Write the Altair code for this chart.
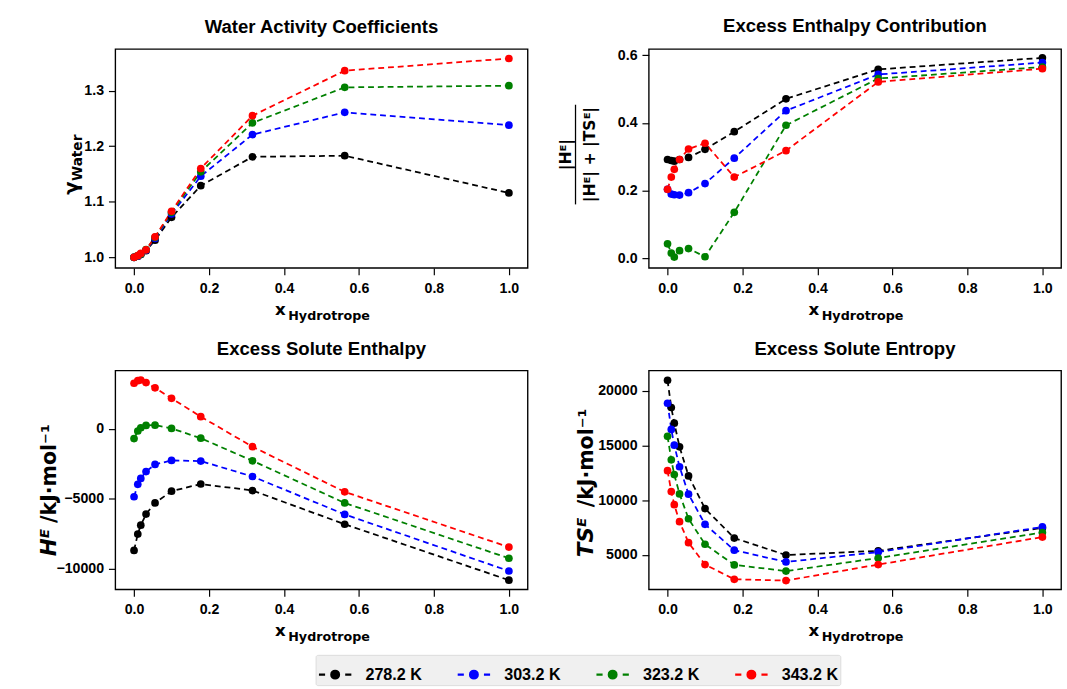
import altair as alt
import pandas as pd

# ---- data ----
x_vals = [0.0, 0.01, 0.018, 0.032, 0.056, 0.1, 0.178, 0.316, 0.562, 1.0]
temps = ["278.2 K", "303.2 K", "323.2 K", "343.2 K"]
colors = ["#000000", "#0000ff", "#008000", "#ff0000"]

gamma_278 = [1.0, 1.002, 1.005, 1.012, 1.031, 1.072, 1.129, 1.181, 1.183, 1.116]
gamma_303 = [1.0, 1.002, 1.006, 1.013, 1.034, 1.078, 1.146, 1.221, 1.261, 1.238]
gamma_323 = [1.0, 1.003, 1.006, 1.014, 1.036, 1.081, 1.154, 1.242, 1.306, 1.309]
gamma_343 = [1.0, 1.003, 1.007, 1.0135, 1.037, 1.083, 1.160, 1.255, 1.336, 1.358]

frac_278 = [0.292, 0.289, 0.287, 0.292, 0.298, 0.322, 0.374, 0.471, 0.558, 0.592]
frac_303 = [0.204, 0.190, 0.188, 0.187, 0.194, 0.221, 0.296, 0.436, 0.543, 0.578]
frac_323 = [0.043, 0.016, 0.004, 0.023, 0.029, 0.005, 0.136, 0.393, 0.531, 0.565]
frac_343 = [0.204, 0.240, 0.263, 0.292, 0.323, 0.340, 0.240, 0.318, 0.521, 0.560]

he_278 = [-8671, -7506, -6876, -6084, -5291, -4452, -3939, -4406, -6807, -10793]
he_303 = [-4848, -3963, -3543, -3054, -2541, -2261, -2308, -3403, -6107, -10140]
he_323 = [-699, -163, 70, 233, 256, 23, -676, -2284, -5291, -9231]
he_343 = [3240, 3427, 3473, 3287, 2914, 2168, 862, -1282, -4499, -8438]

tse_278 = [20958, 18473, 17036, 14880, 12216, 9222, 6527, 4970, 5359, 7455]
tse_303 = [18862, 16467, 15030, 13054, 10539, 7784, 5419, 4341, 5240, 7545]
tse_323 = [15838, 13683, 12335, 10569, 8293, 5958, 4072, 3503, 4701, 7036]
tse_343 = [12695, 10779, 9581, 8024, 6108, 4102, 2754, 2635, 4102, 6617]

x_ticks = [0.0, 0.2, 0.4, 0.6, 0.8, 1.0]

gammas = [gamma_278, gamma_303, gamma_323, gamma_343]
fracs = [frac_278, frac_303, frac_323, frac_343]
hes = [he_278, he_303, he_323, he_343]
tses = [tse_278, tse_303, tse_323, tse_343]

rows = []
for i, t in enumerate(temps):
    for j, xv in enumerate(x_vals):
        rows.append({"x": xv, "T": t, "order": i,
                     "gamma": gammas[i][j], "frac": fracs[i][j],
                     "HE": hes[i][j], "TSE": tses[i][j]})
df = pd.DataFrame(rows)

W, H = 422, 224
LEG_PATH = "M-1,0L-0.62,0M0.62,0L1,0M-0.24,0A0.24,0.24 0 1,0 0.24,0A0.24,0.24 0 1,0 -0.24,0"

color_enc = alt.Color(
    "T:N",
    scale=alt.Scale(domain=temps, range=colors),
    legend=alt.Legend(
        title=None, orient="none", legendX=205, legendY=620, direction="horizontal",
        columns=4, symbolType=LEG_PATH, symbolSize=1100, symbolStrokeWidth=2.2,
        labelFont="Liberation Sans", labelFontSize=16.5, labelFontWeight="bold",
        labelColor="black", columnPadding=32, labelOffset=13,
        fillColor="#f0f0f0", strokeColor="#dcdcdc", padding=2, cornerRadius=2,
    ),
)


def txt(text, x, y, size, angle=0, align="left", font="DejaVu Sans", style="normal"):
    return alt.Chart(pd.DataFrame({"t": [text]})).mark_text(
        align=align, baseline="alphabetic", angle=angle, fontSize=size,
        fontWeight="bold", font=font, fontStyle=style, color="black",
    ).encode(x=alt.value(x), y=alt.value(y), text="t:N")


def xtitle():
    return [txt("x", 169, H + 48, 17, align="center"),
            txt("Hydrotrope", 177, H + 53, 13)]


def panel(field, title, ydom, yticks, yfmt, extras):
    base = alt.Chart(df).encode(
        x=alt.X("x:Q", scale=alt.Scale(domain=[-0.05, 1.05], nice=False, zero=False),
                axis=alt.Axis(values=x_ticks, format=".1f", title=None, labelPadding=7)),
        y=alt.Y(f"{field}:Q", scale=alt.Scale(domain=ydom, nice=False, zero=False),
                axis=alt.Axis(values=yticks, format=yfmt, title=None, labelPadding=5)),
        color=color_enc,
        detail="T:N",
    )
    line = base.mark_line(strokeDash=[6, 4], strokeWidth=1.8).encode(order="x:Q")
    pts = base.mark_circle(size=62, opacity=1)
    return alt.layer(line, pts, *xtitle(), *extras).properties(
        width=W, height=H,
        title=alt.Title(title, fontSize=19, fontWeight="bold", font="Liberation Sans",
                        color="black", offset=12),
    )


p1 = panel("gamma", "Water Activity Coefficients", [0.981, 1.375],
           [1.0, 1.1, 1.2, 1.3], ".1f",
           [txt("γ", -38, 149, 20, angle=270),
            txt("Water", -34, 135, 14, angle=270)])

frac_rule = alt.Chart(pd.DataFrame({"a": [0]})).mark_rule(color="black", strokeWidth=1.3).encode(
    x=alt.value(-75), y=alt.value(57), y2=alt.value(159))
p2 = panel("frac", "Excess Enthalpy Contribution", [-0.028, 0.618],
           [0.0, 0.2, 0.4, 0.6], ".1f",
           [txt("|Hᴱ|", -80, 108, 16, angle=270, align="center"),
            frac_rule,
            txt("|Hᴱ| + |TSᴱ|", -55, 108, 16, angle=270, align="center")])

p3 = panel("HE", "Excess Solute Enthalpy", [-11450, 4150],
           [-10000, -5000, 0], "d",
           [txt("Hᴱ", -61, 190, 22, angle=270, style="italic"),
            txt("/kJ·mol⁻¹", -61, 156, 21, angle=270)])

p4 = panel("TSE", "Excess Solute Entropy", [1830, 21860],
           [5000, 10000, 15000, 20000], "d",
           [txt("TSᴱ", -57, 191, 22, angle=270, style="italic"),
            txt("/kJ·mol⁻¹", -57, 140, 21, angle=270)])

chart = alt.concat(
    p1, p2, p3, p4, columns=2, bounds="flush",
    spacing=alt.RowColnumber(row=105, column=124),
).properties(
    padding={"left": 38, "top": 8, "right": 5, "bottom": 5}
).configure_view(
    stroke="black", strokeWidth=1.4
).configure_axis(
    domain=False, grid=False, tickColor="black", tickSize=7, tickWidth=1.2,
    labelFont="Liberation Sans", labelFontSize=14.5, labelFontWeight="bold",
    labelColor="black",
)

chart.save("out.html", embed_options={"renderer": "svg", "actions": False})
